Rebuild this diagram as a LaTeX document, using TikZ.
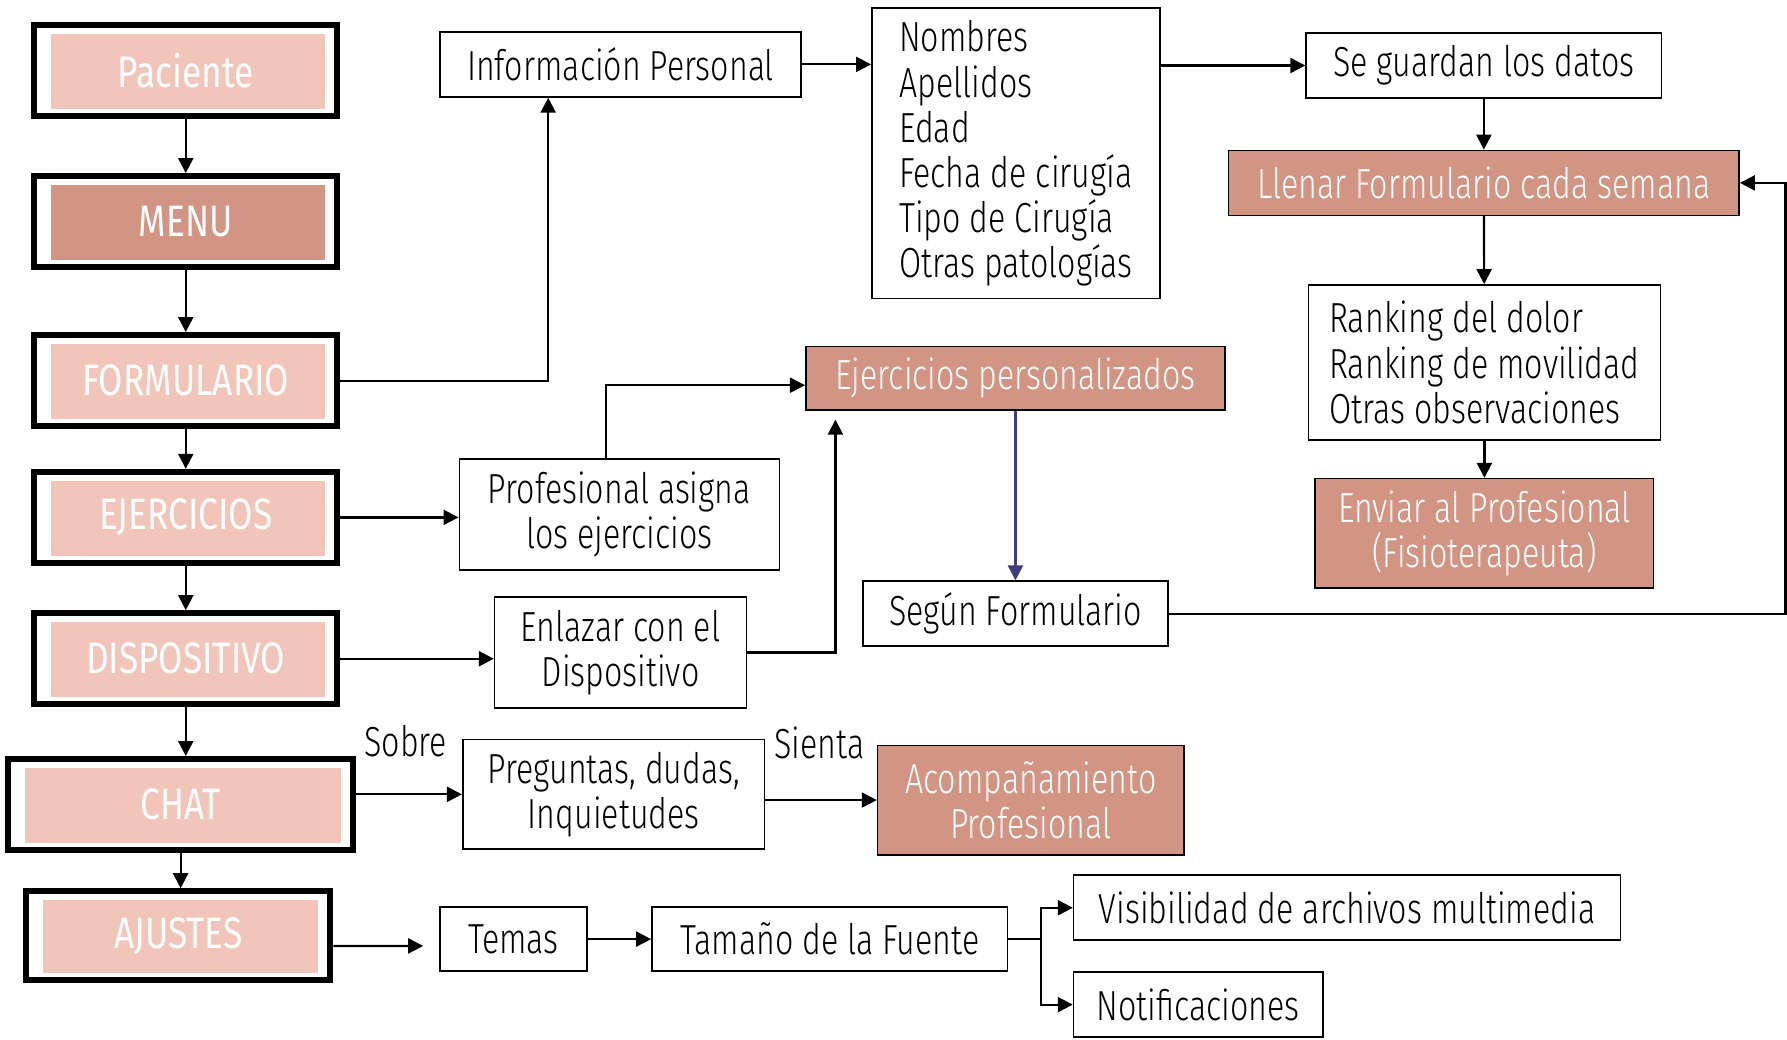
\documentclass[tikz,border=0pt]{standalone}
\usepackage{fontspec}
\setmainfont{Fira Sans}[UprightFont=* Light, FakeStretch=0.765]
\newfontfamily\menufont{Fira Sans}[FakeStretch=0.8]
\usetikzlibrary{arrows.meta}

\definecolor{rosa}{HTML}{F1C5BA}
\definecolor{salmon}{HTML}{D39583}
\definecolor{morado}{HTML}{3F3D7E}

\begin{document}
\begin{tikzpicture}[
        x=0.02cm, y=-0.02cm,
        >={Triangle[length=7.5pt, width=7.5pt]},
        font=\fontsize{21}{22.5}\selectfont,
    ]

    \tikzstyle{box} = [rectangle, draw=black, line width=0.8pt, align=center,
                       inner sep=0pt]
    \tikzstyle{dark} = [box, fill=salmon, text=white]
    \tikzstyle{link} = [->, line width=1.1pt]
    \tikzset{menu/.style={rectangle, draw=black, line width=3pt, fill=white,
        text=white, minimum width=5.32cm, minimum height=1.6cm,
        font=\menufont\fontsize{22}{24}\selectfont,
        path picture={\fill[#1]
            ([shift={(0.3cm,-0.16cm)}]path picture bounding box.north west) rectangle
            ([shift={(-0.22cm,0.12cm)}]path picture bounding box.south east);}},
        menu/.default=rosa}

    \useasboundingbox (0,0) rectangle (1568,912);

    % Menu column
    \node[menu] (paciente) at (163,62) {Paciente};
    \node[menu=salmon] (menu) at (163,194.5) {MENU};
    \node[menu] (formulario) at (163,334) {FORMULARIO};
    \node[menu] (ejercicios) at (163,454) {EJERCICIOS};
    \node[menu] (dispositivo) at (163,578) {DISPOSITIVO};
    \node[menu, minimum width=6.06cm] (chat) at (158.5,706) {CHAT};
    \node[menu, minimum width=5.34cm, minimum height=1.56cm] (ajustes) at (156.5,821) {AJUSTES};

    % Nodes
    \node[box, minimum width=6.34cm, minimum height=1.14cm] (info) at (544.5,56.5) {Información Personal};
    \node[box, align=left, minimum width=5.06cm, minimum height=5.1cm] (datos) at (891.5,134.5)
        {Nombres\\Apellidos\\Edad\\Fecha de cirugía\\Tipo de Cirugía\\Otras patologías};
    \node[box, minimum width=6.24cm, minimum height=1.14cm] (guardan) at (1302,57.5) {Se guardan los datos};
    \node[dark, minimum width=8.96cm, minimum height=1.14cm] (llenar) at (1302,160.5) {Llenar Formulario cada semana};
    \node[box, align=left, minimum width=6.18cm, minimum height=2.72cm] (ranking) at (1302.5,318)
        {Ranking del dolor\\Ranking de movilidad\\Otras observaciones};
    \node[dark, minimum width=5.94cm, minimum height=1.92cm] (enviar) at (1302.5,468)
        {Enviar al Profesional\\(Fisioterapeuta)};
    \node[dark, minimum width=7.36cm, minimum height=1.12cm] (ejpers) at (891,332) {Ejercicios personalizados};
    \node[box, minimum width=5.62cm, minimum height=1.94cm] (asigna) at (543.5,451.5) {Profesional asigna\\los ejercicios};
    \node[box, minimum width=4.42cm, minimum height=1.94cm] (enlazar) at (544.5,572.5) {Enlazar con el\\Dispositivo};
    \node[box, minimum width=5.36cm, minimum height=1.14cm] (segun) at (891,538.5) {Según Formulario};
    \node[box, minimum width=5.3cm, minimum height=1.92cm] (preguntas) at (538.5,697) {Preguntas, dudas,\\Inquietudes};
    \node[dark, minimum width=5.38cm, minimum height=1.92cm] (acomp) at (904.5,702) {Acompañamiento\\Profesional};
    \node[box, minimum width=2.58cm, minimum height=1.12cm] (temas) at (450.5,824) {Temas};
    \node[box, minimum width=6.24cm, minimum height=1.12cm] (tamano) at (728,824) {Tamaño de la Fuente};
    \node[box, minimum width=9.6cm, minimum height=1.14cm] (visib) at (1182,796.5) {Visibilidad de archivos multimedia};
    \node[box, minimum width=4.38cm, minimum height=1.14cm] (notif) at (1051.5,881.5) {Notificaciones};

    % Labels
    \node (sobre) at (356,650) {Sobre};
    \node (sienta) at (719,652) {Sienta};

    % Arrows down the menu
    \draw[link] (paciente.south) -- (menu.north);
    \draw[link] (menu.south) -- (formulario.north);
    \draw[link] (formulario.south) -- (ejercicios.north);
    \draw[link] (ejercicios.south) -- (dispositivo.north);
    \draw[link] (dispositivo.south) -- (dispositivo.south |- chat.north);
    \draw[link] (chat.south) -- (chat.south |- ajustes.north);

    % Arrows out of the menu
    \draw[link] (formulario.east) -| ([xshift=-1.27cm]info.south);
    \draw[link] (ejercicios.east) -- (ejercicios.east -| asigna.west);
    \draw[link] ([xshift=-0.23cm]asigna.north) |- ([yshift=-0.12cm]ejpers.west);
    \draw[link] (dispositivo.east) -- (dispositivo.east -| enlazar.west);
    \draw[link, shorten >=0.15cm] (enlazar.east) -| ([xshift=-3.16cm]ejpers.south);
    \draw[link] (preguntas.west -| chat.east) -- (preguntas.west);
    \draw[link] (preguntas.east |- acomp.west) -- (acomp.west);
    \draw[link, shorten >=0.28cm] ([yshift=-0.18cm]ajustes.east) -- ([yshift=-0.12cm]temas.west);
    \draw[link] (temas) -- (tamano);
    \draw[line width=1.1pt] (tamano.east) -- ++(0.58cm,0) coordinate (split);
    \draw[link] (split) |- (visib.west);
    \draw[link] (split) |- (notif.west);

    % Patient data flow
    \draw[link] (info.east) -- (info.east -| datos.west);
    \draw[link] (datos.east |- guardan.west) -- (guardan.west);
    \draw[link] (guardan) -- (llenar);
    \draw[link] (llenar) -- (ranking);
    \draw[link] (ranking) -- (enviar);
    \draw[link, draw=morado, fill=morado] (ejpers) -- (segun);
    \draw[link] (segun.east) -| ([xshift=0.8cm]llenar.east) -- (llenar.east);

\end{tikzpicture}
\end{document}
